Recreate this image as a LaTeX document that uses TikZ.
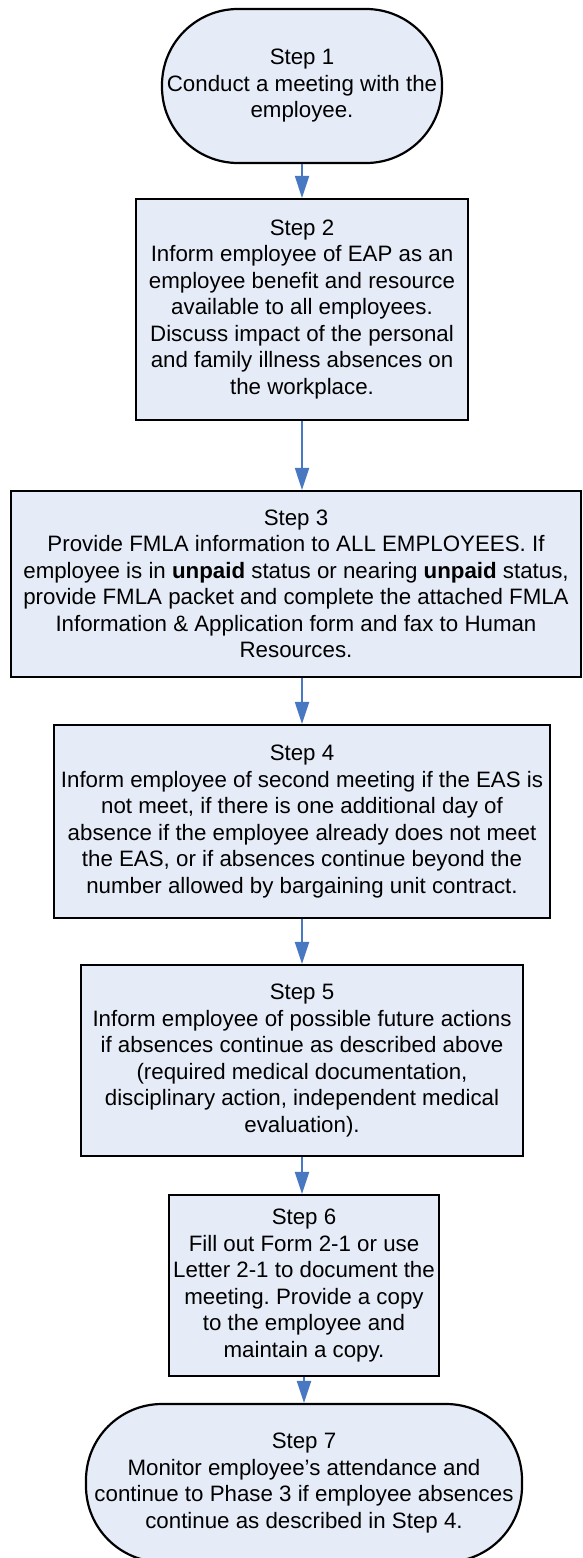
\documentclass[tikz,border=0pt]{standalone}
\usepackage{fontspec}
\setmainfont{Liberation Sans}
\usetikzlibrary{arrows.meta}
\frenchspacing
\definecolor{boxfill}{RGB}{230,236,247}
\definecolor{arrowblue}{RGB}{72,120,194}
\tikzset{
  stepbox/.style={draw=black, line width=2.2pt, fill=boxfill, align=center,
    inner sep=0pt, font=\fontsize{22.3pt}{26.5pt}\selectfont},
  termbox/.style={stepbox, rounded corners=76pt},
  flow/.style={draw=arrowblue, line width=2pt,
    -{Triangle[width=14pt,length=22pt]}, shorten >=0pt}
}
\begin{document}
\begin{tikzpicture}[x=1pt,y=1pt]
\useasboundingbox (0,0) rectangle (582,-1558);
\node[termbox, minimum width=280pt, minimum height=154pt] (s1) at (302,-86)
  {Step 1\\Conduct a meeting with the\\employee.};
\node[stepbox, minimum width=332pt, minimum height=221pt] (s2) at (302,-309.5)
  {Step 2\\Inform employee of EAP as an\\employee benefit and resource\\available to all employees.\\Discuss impact of the personal\\and family illness absences on\\the workplace.};
\node[stepbox, minimum width=570pt, minimum height=186pt] (s3) at (296,-584)
  {Step 3\\Provide FMLA information to ALL EMPLOYEES. If\\employee is in \textbf{unpaid} status or nearing \textbf{unpaid} status,\\provide FMLA packet and complete the attached FMLA\\Information \& Application form and fax to Human\\Resources.};
\node[stepbox, minimum width=496pt, minimum height=193pt] (s4) at (302,-821.5)
  {Step 4\\Inform employee of second meeting if the EAS is\\not meet, if there is one additional day of\\absence if the employee already does not meet\\the EAS, or if absences continue beyond the\\number allowed by bargaining unit contract.};
\node[stepbox, minimum width=442pt, minimum height=191pt] (s5) at (302,-1060.5)
  {Step 5\\Inform employee of possible future actions\\if absences continue as described above\\(required medical documentation,\\disciplinary action, independent medical\\evaluation).};
\node[stepbox, minimum width=270pt, minimum height=181pt] (s6) at (304,-1285.5)
  {Step 6\\Fill out Form 2-1 or use\\Letter 2-1 to document the\\meeting. Provide a copy\\to the employee and\\maintain a copy.};
\node[termbox, minimum width=436pt, minimum height=158pt] (s7) at (304,-1483)
  {Step 7\\Monitor employee’s attendance and\\continue to Phase 3 if employee absences\\continue as described in Step 4.};
\draw[flow] (s1.south) -- (s2.north);
\draw[flow] (s2.south) -- (s2.south |- s3.north);
\draw[flow] (s2.south |- s3.south) -- (s4.north);
\draw[flow] (s4.south) -- (s5.north);
\draw[flow] (s5.south) -- (s5.south |- s6.north);
\draw[flow] (s6.south) -- (s7.north);
\end{tikzpicture}
\end{document}
